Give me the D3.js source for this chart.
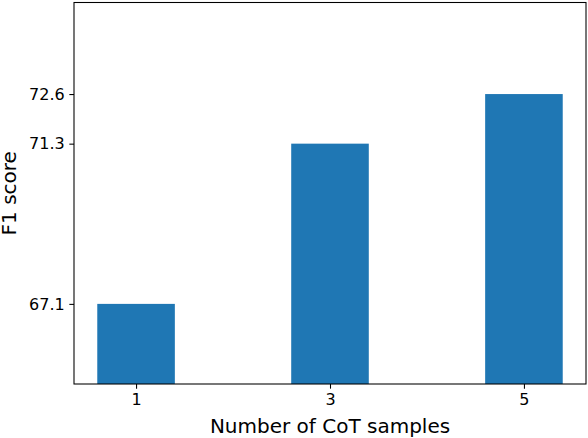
<!DOCTYPE html>
<html>
<head>
<meta charset="utf-8">
<script src="https://cdn.jsdelivr.net/npm/d3@7"></script>
<style>
  html, body { margin: 0; padding: 0; background: #fff; }
  svg { display: block; font-family: "DejaVu Sans", sans-serif; }
</style>
</head>
<body>
<svg id="chart" width="588" height="438"></svg>
<script>
const categories = ["1", "3", "5"];
const values = [67.1, 71.3, 72.6];
const yTickValues = [67.1, 71.3, 72.6];
const xLabel = "Number of CoT samples";
const yLabel = "F1 score";

const W = 588, H = 438;
const m = { left: 74, right: 2, top: 2.5, bottom: 54 };
const svg = d3.select("#chart");

const x = d3.scaleLinear().domain([-0.32, categories.length - 1 + 0.32]).range([m.left, W - m.right]);
const y = d3.scaleLinear().domain([65, 75]).range([H - m.bottom, m.top]);
const barW = x(0.4) - x(0);

svg.append("g").selectAll("rect").data(values).join("rect")
  .attr("x", (d, i) => x(i) - barW / 2)
  .attr("width", barW)
  .attr("y", d => y(d))
  .attr("height", d => y(65) - y(d))
  .attr("fill", "#1f77b4");

const tick = 4.67;
const xAxis = d3.axisBottom(x)
  .tickValues(categories.map((c, i) => i))
  .tickFormat(i => categories[i])
  .tickSize(tick).tickPadding(tick).tickSizeOuter(0);
const gx = svg.append("g").attr("transform", `translate(0,${H - m.bottom})`).call(xAxis);
gx.select(".domain").remove();

const yAxis = d3.axisLeft(y).tickValues(yTickValues).tickFormat(d3.format(".1f"))
  .tickSize(tick).tickPadding(tick).tickSizeOuter(0);
const gy = svg.append("g").attr("transform", `translate(${m.left},0)`).call(yAxis);
gy.select(".domain").remove();

[gx, gy].forEach(g => {
  g.selectAll("text").attr("font-size", 16).attr("font-family", "DejaVu Sans").attr("fill", "#000");
  g.selectAll("line").attr("stroke", "#000").attr("stroke-width", 1.07);
});

// frame
svg.append("rect")
  .attr("x", m.left).attr("y", m.top)
  .attr("width", W - m.right - m.left).attr("height", H - m.bottom - m.top)
  .attr("fill", "none").attr("stroke", "#000").attr("stroke-width", 1.07);

svg.append("text")
  .attr("x", (m.left + W - m.right) / 2).attr("y", 433)
  .attr("text-anchor", "middle").attr("font-size", 20).attr("fill", "#000")
  .text(xLabel);

svg.append("text")
  .attr("transform", `translate(16,${(m.top + H - m.bottom) / 2}) rotate(-90)`)
  .attr("text-anchor", "middle").attr("font-size", 20).attr("fill", "#000")
  .text(yLabel);
</script>
</body>
</html>
